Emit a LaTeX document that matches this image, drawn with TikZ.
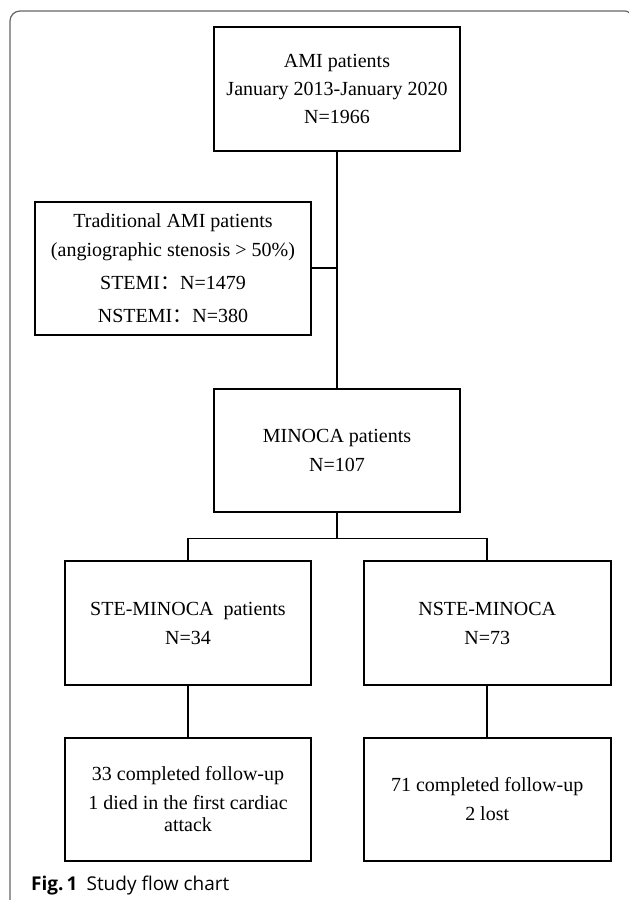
\documentclass[tikz,border=0pt]{standalone}
\usepackage{fontspec}
\setmainfont{Liberation Serif}
\setsansfont{Open Sans}
\newfontfamily\cjk{Noto Sans CJK SC}
\usetikzlibrary{positioning}

\begin{document}
\begin{tikzpicture}[
  x=1pt, y=1pt,
  node distance=51pt,
  box/.style={draw, line width=1.7pt, align=center, font=\fontsize{20}{21.8}\selectfont,
              minimum width=246pt, minimum height=124pt, inner sep=2pt},
  link/.style={line width=1.7pt}
]
\useasboundingbox (0,0) rectangle (629,-900);
% outer frame
\draw[gray!80!black, line width=1.2pt]
  (10,-900) -- (10,-21) arc[start angle=180, end angle=90, radius=10] -- (625,-11)
  arc[start angle=90, end angle=45, radius=6];

\node[box] (ami) at (337,-89) {AMI patients\\[6.2pt] January 2013-January 2020\\[6.2pt] N=1966};
\node[box, minimum width=276pt, minimum height=133pt] (trad) at (173,-268.5)
  {Traditional AMI patients\\[7.2pt] (angiographic stenosis > 50\%)\\[11.2pt]
   STEMI{\cjk ：}N=1479\\[11.2pt] NSTEMI{\cjk ：}N=380};
\node[box, below=236pt of ami, minimum height=123pt] (minoca) {MINOCA patients\\[7.2pt] N=107};
\node[box] (ste) at (188,-623) {STE-MINOCA\ \ patients\\[7.2pt] N=34};
\node[box, right=51pt of ste, minimum width=247pt] (nste) {NSTE-MINOCA\\[7.2pt] N=73};
\node[box, below=of ste, minimum height=123pt] (steout)
  {33 completed follow-up\\[7.2pt] 1 died in the first cardiac\\ attack};
\node[box, below=of nste, minimum width=247pt, minimum height=123pt] (nsteout)
  {71 completed follow-up\\[7.2pt] 2 lost};

\draw[link] (ami) -- (minoca);
\draw[link] (trad.east |- 0,-268) -- (ami.south |- 0,-268);
\draw[link] (minoca.south) -- ++(0,-26) coordinate (fork);
\draw[link] (ste.north) |- (fork) -| (nste.north);
\draw[link] (ste) -- (steout);
\draw[link] (nste) -- (nsteout);

\node[anchor=base west, inner sep=0pt, font=\sffamily\fontsize{19}{22}\selectfont] (cap) at (31,-890)
  {\textbf{Fig.\,1}\hspace{9pt}Study flow chart};
\end{tikzpicture}
\end{document}
